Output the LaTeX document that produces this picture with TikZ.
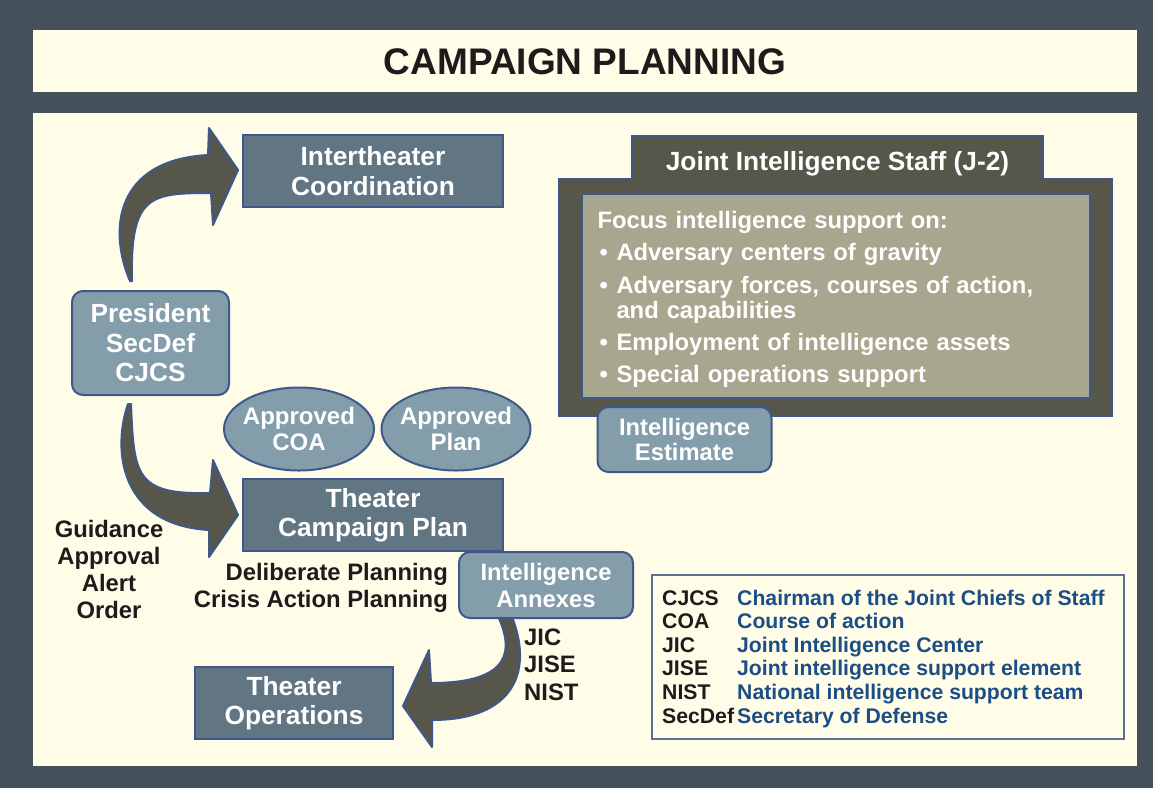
\documentclass[tikz,border=0pt]{standalone}
\usepackage{fontspec}
\setmainfont{Liberation Sans}
\usetikzlibrary{positioning, shapes.geometric}

\definecolor{slatebg}{RGB}{69,82,92}
\definecolor{creambg}{RGB}{255,253,232}
\definecolor{boxdark}{RGB}{97,117,131}
\definecolor{boxlight}{RGB}{131,157,171}
\definecolor{edgeblue}{RGB}{62,88,140}
\definecolor{arrowfill}{RGB}{87,86,74}
\definecolor{innerfill}{RGB}{168,166,142}
\definecolor{legendblue}{RGB}{28,78,134}
\definecolor{legendedge}{RGB}{92,112,148}
\definecolor{inkdark}{RGB}{28,28,28}

\newcommand{\bul}{\makebox[19pt][l]{\hspace{2pt}\textbullet}}

\begin{document}
\begin{tikzpicture}[x=1pt, y=-1pt,
    darkbox/.style={draw=edgeblue, line width=2pt, fill=boxdark, text=white, align=center,
      inner sep=0pt, font=\fontsize{26.3}{29.5}\selectfont\bfseries},
    lightbox/.style={darkbox, fill=boxlight, rounded corners=11pt},
    oval/.style={ellipse, draw=edgeblue, line width=2pt, fill=boxlight, text=white, align=center,
      inner xsep=-6pt, inner ysep=0pt, font=\fontsize{24}{26.5}\selectfont\bfseries},
    bigarrow/.style={draw=edgeblue, line width=2pt, fill=arrowfill, line join=round},
    sidetext/.style={inner sep=0pt, text=inkdark, font=\fontsize{23.8}{27}\selectfont\bfseries}]

    \useasboundingbox (0,0) rectangle (1153,788);

    % Frame and panels
    \fill[slatebg] (0,0) rectangle (1153,788);
    \fill[creambg] (33,30) rectangle (1137,92);
    \fill[creambg] (33,113) rectangle (1137,766);

    \node[anchor=base, inner sep=0pt, text=inkdark, font=\fontsize{37}{40}\selectfont\bfseries]
        (title) at (585,74) {CAMPAIGN PLANNING};

    % Block arrows
    \filldraw[bigarrow] (130,281) .. controls (108,230) and (115,160) .. (208,155)
        -- (209,128) -- (238,170) -- (213,225) -- (211,193)
        .. controls (150,193) and (130,195) .. (132,281) -- cycle;
    \filldraw[bigarrow] (131,404) .. controls (134,475) and (135,495) .. (210,493)
        -- (213,460) -- (238,515) -- (209,557) -- (209,530)
        .. controls (120,525) and (112,450) .. (128,404) -- cycle;
    \filldraw[bigarrow] (496,612) .. controls (515,650) and (512,683) .. (431,683)
        -- (429,650) -- (403,706) -- (432,747) -- (432,720)
        .. controls (515,720) and (535,670) .. (510,612) -- cycle;

    % Left column
    \node[darkbox, minimum width=260pt, minimum height=72pt] (inter) at (373,171) {Intertheater\\Coordination};
    \node[lightbox, minimum width=157pt, minimum height=104pt] (pres) at (150.5,343) {President\\SecDef\\CJCS};
    \node[oval, minimum width=150pt, minimum height=83pt] (coa) at (299,429) {Approved\\COA};
    \node[oval, minimum width=149pt, minimum height=83pt] (plan) at (456,429) {Approved\\Plan};
    \node[darkbox, minimum width=260pt, minimum height=72pt] (tcp) at (373,515) {Theater\\Campaign Plan};
    \node[lightbox, font=\fontsize{23.8}{27}\selectfont\bfseries, minimum width=174pt, minimum height=66pt]
        (annex) at (546,585) {Intelligence\\Annexes};
    \node[darkbox, minimum width=198pt, minimum height=72pt] (tops) at (294,703) {Theater\\Operations};

    \node[sidetext, anchor=base] (orders) at (109,537)
        {\begin{tabular}[t]{@{}c@{}}Guidance\\Approval\\Alert\\Order\end{tabular}};
    \node[sidetext, anchor=base east] (modes) at (448,580)
        {\begin{tabular}[t]{@{}r@{}}Deliberate Planning\\Crisis Action Planning\end{tabular}};
    \node[sidetext, anchor=base west, font=\fontsize{23.8}{27.5}\selectfont\bfseries] (teams) at (524,645)
        {\begin{tabular}[t]{@{}l@{}}JIC\\JISE\\NIST\end{tabular}};

    % J-2 panel
    \filldraw[fill=arrowfill, draw=edgeblue, line width=1.5pt] (632,136) -- (1043,136) -- (1043,179)
        -- (1112,179) -- (1112,416) -- (559,416) -- (559,179) -- (632,179) -- cycle;
    \node[anchor=base, inner sep=0pt, text=white, font=\fontsize{26.3}{29}\selectfont\bfseries]
        (j2) at (837.5,170) {Joint Intelligence Staff (J-2)};
    \node[draw=edgeblue, line width=2pt, fill=innerfill, minimum width=508pt, minimum height=204pt,
        text width=476pt, inner xsep=16pt, inner ysep=0pt, align=left, text=white,
        font=\fontsize{23.8}{25.5}\selectfont\bfseries] (focus) at (835.5,296)
        {\rule{0pt}{24pt}Focus intelligence support on:\\[6.5pt]
         \bul Adversary centers of gravity\\[7pt]
         \bul Adversary forces, courses of action,\\
         \hspace*{19pt}and capabilities\\[6pt]
         \bul Employment of intelligence assets\\[6.5pt]
         \bul Special operations support};
    \node[lightbox, font=\fontsize{23.8}{25.5}\selectfont\bfseries, minimum width=174pt, minimum height=65pt]
        (est) at (684.5,439.5) {Intelligence\\Estimate};

    % Legend
    \node[draw=legendedge, line width=1.2pt, minimum width=472pt, minimum height=164pt] (legend) at (888,657) {};
    \node[anchor=base west, inner sep=0pt, text=inkdark, font=\fontsize{21.2}{23.6}\selectfont\bfseries]
        (abbr) at (662,605) {\begin{tabular}[t]{@{}p{75pt}@{}l@{}}
        CJCS & \textcolor{legendblue}{Chairman of the Joint Chiefs of Staff}\\
        COA & \textcolor{legendblue}{Course of action}\\
        JIC & \textcolor{legendblue}{Joint Intelligence Center}\\
        JISE & \textcolor{legendblue}{Joint intelligence support element}\\
        NIST & \textcolor{legendblue}{National intelligence support team}\\
        SecDef & \textcolor{legendblue}{Secretary of Defense}
        \end{tabular}};
\end{tikzpicture}
\end{document}
